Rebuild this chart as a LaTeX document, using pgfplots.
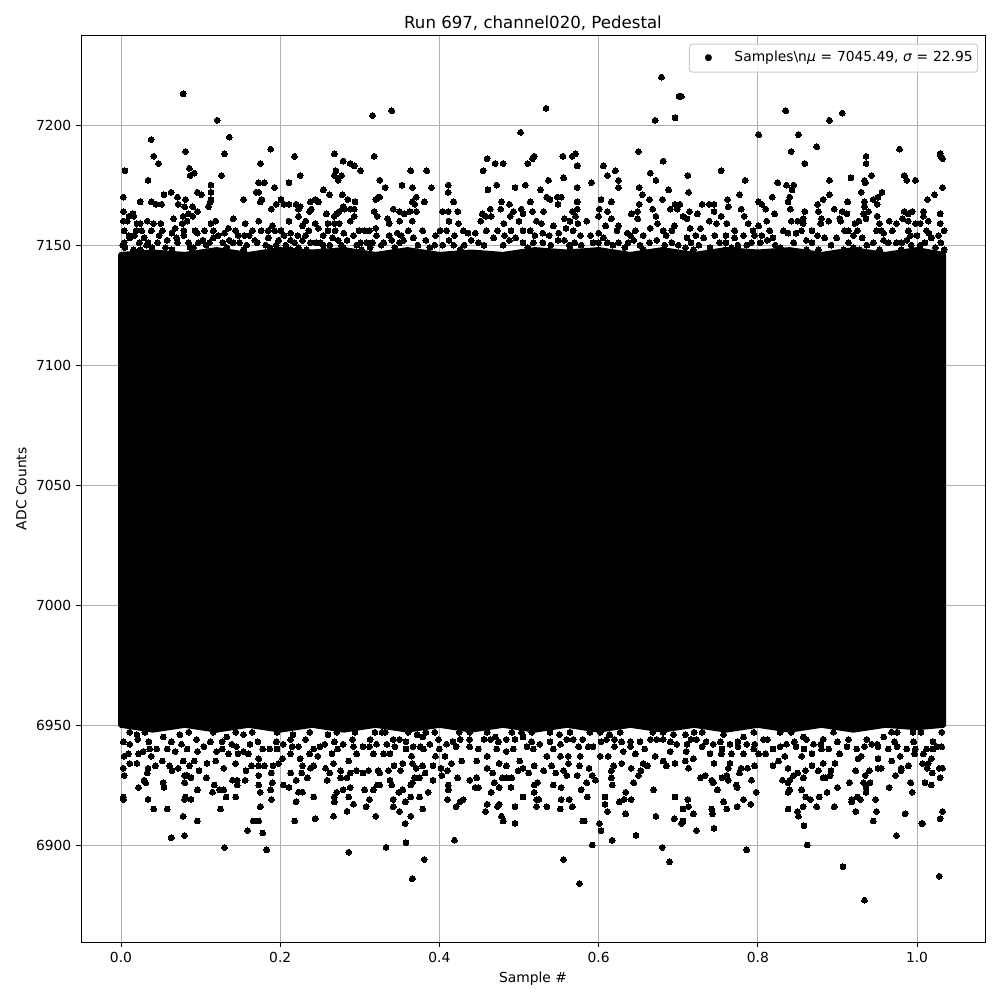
\documentclass[border=0pt]{standalone}
\usepackage{pgfplots}
\pgfplotsset{compat=1.18}
\usepackage{fontspec}
\setmainfont{DejaVu Sans}
\begin{document}
\begin{tikzpicture}
\useasboundingbox (0,0) rectangle (720bp,720bp);
\begin{axis}[
  at={(58.32bp,41.76bp)}, anchor=south west,
  scale only axis, width=650.88bp, height=652.6bp,
  xmin=-50.25, xmax=1085.4, ymin=6859.6, ymax=7237.3,
  xtick={0,200,400,600,800,1000},
  xticklabels={0.0,0.2,0.4,0.6,0.8,1.0},
  ytick={6900,6950,7000,7050,7100,7150,7200},
  /pgf/number format/assume math mode=true,
  /pgf/number format/1000 sep={},
  tick align=outside, tick pos=left,
  major tick length=3.5bp,
  tick style={black, line width=0.72bp},
  axis line style={line width=0.72bp},
  grid=major, grid style={color=black!31, line width=0.72bp},
  tick label style={font=\fontsize{10}{12}\selectfont},
  label style={font=\fontsize{10}{12}\selectfont},
  title style={font=\fontsize{12}{14}\selectfont, yshift=-6bp},
  title={Run 697, channel020, Pedestal},
  xlabel={Sample \#},
  ylabel={ADC Counts},
]
\addplot[forget plot, fill=black, draw=black, line width=4bp, line join=round] coordinates {
(0,7146)(40,7147)(80,7146)(120,7148)(160,7146)(200,7148)(240,7147)(280,7148)(320,7146)(360,7148)(400,7146)(440,7147)(480,7146)(520,7148)(560,7147)(600,7148)(640,7146)(680,7148)(720,7146)(760,7148)(800,7147)(840,7148)(880,7146)(920,7148)(960,7146)(1000,7148)(1033,7146)
(1033,6950)(1000,6949)(960,6950)(920,6948)(880,6950)(840,6948)(800,6950)(760,6948)(720,6950)(680,6948)(640,6950)(600,6948)(560,6950)(520,6948)(480,6950)(440,6948)(400,6950)(360,6948)(320,6950)(280,6948)(240,6950)(200,6948)(160,6950)(120,6948)(80,6950)(40,6948)(0,6950)
} -- cycle;
\addplot[only marks, mark=*, mark size=2.1bp, mark options={black, draw=black, line width=0pt}, color=black] coordinates {
(78,7213)(121,7202)(38,7194)(136,7195)(81,7189)(130,7188)(188,7190)(41,7187)(47,7184)(175,7184)(218,7187)(5,7181)(86,7182)(92,7180)(87,7179)(126,7179)(34,7177)(173,7176)(180,7176)(113,7175)(193,7174)(211,7176)(225,7179)
(3,7170)(24,7168)(38,7168)(44,7167)(51,7167)(54,7171)(63,7172)(71,7170)(72,7167)(81,7169)(80,7166)(90,7166)(96,7172)(101,7171)(96,7164)(113,7172)(112,7168)(113,7169)(110,7166)(154,7169)(170,7172)(173,7172)(177,7169)(175,7168)(201,7169)(195,7167)(189,7165)(205,7167)(211,7167)(220,7167)(225,7166)(223,7165)(238,7168)(244,7169)(248,7168)(254,7173)(262,7171)(268,7188)(279,7185)(288,7184)(293,7183)(301,7181)(270,7181)(268,7179)(277,7179)(273,7177)(278,7171)(285,7169)(294,7168)(279,7166)(288,7165)(281,7165)(293,7165)(293,7162)(288,7160)(274,7164)(271,7163)(268,7162)(258,7163)(239,7165)(237,7164)(223,7162)(211,7160)(232,7160)(228,7158)(244,7159)(260,7159)(268,7159)(274,7159)(316,7204)(318,7187)(325,7177)(320,7169)(323,7170)(318,7164)(322,7162)(320,7157)
(3,7164)(3,7160)(8,7160)(10,7162)(15,7163)(16,7162)(20,7159)(24,7159)(33,7160)(41,7159)(50,7159)(66,7161)(78,7162)(85,7163)(90,7162)(77,7159)(83,7160)(141,7161)(113,7159)(119,7160)(156,7159)(173,7160)(190,7158)
(4,7156)(19,7156)(26,7156)(52,7156)(79,7156)(93,7156)(116,7156)(130,7155)(144,7156)(165,7156)(176,7156)(185,7156)(193,7156)(201,7156)(213,7155)(222,7154)(236,7156)(248,7157)(260,7156)(269,7156)(299,7156)(306,7156)
(4,7151)(11,7153)(17,7154)(29,7153)(48,7154)(58,7152)(64,7155)(79,7154)(96,7155)(103,7152)(116,7153)(122,7154)(147,7154)(161,7154)(185,7153)(254,7154)(266,7153)(292,7154)(321,7154)
(23,7151)(34,7151)(46,7151)(71,7151)(85,7151)(97,7151)(111,7151)(141,7151)(149,7151)(171,7151)(198,7152)(213,7152)(228,7152)(238,7151)(245,7151)(254,7150)(273,7152)(284,7152)(301,7151)(309,7151)
(5,7149)(24,7148)(39,7149)(64,7148)(91,7149)(133,7149)(154,7148)(187,7149)(213,7148)(223,7149)(233,7148)(254,7148)(279,7149)(302,7148)(313,7149)
(340,7206)(534,7207)(502,7197)(679,7220)(671,7202)(696,7203)(701,7212)(650,7189)(681,7185)(364,7181)(384,7181)(460,7186)(470,7184)(480,7184)(455,7181)(511,7184)(519,7187)(517,7186)(555,7187)(571,7188)(567,7187)(573,7183)(606,7183)(611,7179)(621,7181)(625,7177)(625,7174)(665,7180)(672,7177)(591,7176)(537,7177)(556,7178)(573,7174)(527,7173)(508,7175)(495,7174)(472,7175)(461,7173)(411,7175)(411,7172)(353,7175)(366,7174)(390,7174)(332,7174)(325,7177)(651,7174)(688,7173)(655,7171)(664,7169)(680,7169)(668,7165)(651,7167)(649,7164)(696,7167)(690,7165)(699,7165)(616,7168)(603,7169)(601,7165)(611,7164)(616,7161)(600,7162)(641,7163)(649,7161)(672,7162)(674,7159)(695,7158)(609,7158)(625,7158)(573,7168)(573,7165)(567,7164)(571,7162)(557,7161)(564,7160)(574,7159)(585,7160)(535,7170)(539,7169)(548,7170)(553,7170)(549,7167)(514,7168)(531,7164)(488,7167)(478,7168)(464,7165)(477,7165)(493,7164)(503,7165)(505,7163)(517,7164)(489,7162)(454,7163)(458,7162)(465,7162)(452,7160)(481,7159)(500,7160)(522,7160)(528,7159)(543,7158)(371,7170)(366,7168)(369,7167)(381,7168)(342,7165)(350,7164)(356,7163)(363,7164)(371,7164)(335,7161)(337,7159)(350,7160)(366,7160)(325,7170)(418,7168)(404,7164)(411,7164)(423,7164)(412,7160)(424,7159)
(379,7156)(361,7156)(347,7155)(337,7154)(401,7156)(409,7156)(419,7154)(430,7156)(436,7155)(459,7156)(473,7156)(490,7156)(505,7156)(514,7156)(530,7155)(538,7154)(559,7157)(568,7156)(577,7154)(590,7154)(606,7153)(623,7156)(636,7155)(646,7156)(665,7157)(681,7156)(692,7156)(656,7154)
(330,7151)(355,7152)(367,7153)(383,7152)(394,7150)(412,7152)(431,7150)(449,7151)(468,7153)(488,7152)(505,7151)(530,7151)(557,7152)(570,7151)(593,7151)(611,7151)(625,7151)(644,7152)(673,7152)(692,7151)
(344,7149)(426,7148)(511,7149)(564,7149)(600,7148)(633,7149)(656,7148)
(704,7212)(835,7206)(890,7202)(906,7205)(801,7196)(851,7196)(842,7189)(874,7191)(859,7184)(978,7190)(1029,7188)(1030,7187)(1032,7186)(936,7187)(936,7184)(754,7181)(712,7179)(784,7177)(825,7176)(836,7175)(845,7175)(843,7173)(890,7177)(917,7178)(943,7179)(934,7177)(935,7176)(984,7179)(987,7177)(998,7177)(1032,7174)(1022,7171)(1013,7169)(713,7172)(777,7171)(840,7170)(838,7168)(818,7170)(890,7171)(882,7169)(930,7172)(956,7172)(951,7170)(945,7169)(934,7168)(913,7168)(875,7167)(730,7167)(739,7167)(745,7167)(762,7169)(763,7166)(801,7168)(805,7167)(810,7165)(821,7163)(779,7165)(841,7165)(859,7164)(876,7164)(896,7165)(906,7164)(912,7163)(934,7166)(950,7167)(939,7164)(933,7163)(984,7164)(989,7163)(994,7164)(1008,7164)(1029,7163)(714,7164)(702,7167)(706,7162)(711,7161)(724,7163)(745,7164)(754,7162)(783,7162)
(811,7160)(801,7158)(788,7159)(842,7160)(850,7160)(857,7161)(857,7159)(880,7161)(879,7159)(889,7160)(903,7161)(904,7160)(922,7159)(927,7160)(936,7161)(950,7162)(953,7159)(965,7160)(974,7159)(982,7161)(989,7160)(998,7159)(1004,7159)(1014,7160)(1029,7159)(1008,7162)(739,7160)(761,7159)(748,7159)
(728,7157)(715,7157)(771,7156)(794,7156)(815,7156)(832,7156)(855,7156)(868,7156)(909,7156)(914,7156)(925,7156)(949,7156)(955,7156)(969,7156)(989,7156)(1012,7156)(1034,7156)
(711,7153)(732,7153)(746,7154)(771,7153)(782,7154)(796,7154)(819,7153)(838,7155)(861,7152)(884,7153)(899,7153)(931,7153)(964,7151)(981,7151)(1000,7154)(1027,7154)(1018,7153)(945,7151)
(709,7149)(740,7149)(767,7149)(786,7150)(803,7151)(828,7149)(876,7148)(908,7148)(920,7149)(953,7148)(993,7150)(1010,7151)(1034,7148)(1023,7149)
(719,7148)(759,7148)(861,7148)(928,7148)(980,7148)
(2,7150)(16,7148)(32,7150)(56,7149)(70,7153)(87,7149)(107,7150)(128,7151)(136,7152)(158,7150)(168,7152)(182,7150)(195,7150)(207,7150)(218,7151)(250,7151)(262,7150)(277,7150)(296,7150)(316,7151)
(327,7150)(340,7152)(350,7151)(373,7150)(388,7149)(404,7150)(418,7150)(440,7152)(456,7150)(480,7150)(496,7153)(518,7151)(540,7150)(549,7152)(563,7150)(578,7150)(600,7151)(618,7150)(637,7151)(652,7150)(664,7151)(683,7150)(700,7150)
(716,7151)(726,7150)(752,7151)(760,7151)(775,7150)(792,7151)(812,7152)(822,7150)(845,7151)(868,7151)(892,7150)(914,7151)(937,7150)(958,7152)(974,7151)(987,7152)(1004,7150)(1030,7151)
(10,7154)(38,7156)(68,7157)(105,7156)(135,7157)(155,7154)(205,7154)(232,7154)(280,7155)(312,7156)
(352,7154)(395,7154)(445,7155)(482,7154)(520,7154)(550,7155)(600,7155)(640,7154)(685,7154)
(722,7154)(760,7154)(805,7154)(848,7155)(875,7154)(920,7154)(958,7155)(992,7154)(1015,7155)
(130,6899)(183,6898)(286,6897)(63,6903)(80,6904)(159,6906)(178,6905)(166,6910)(173,6910)(96,6910)(78,6912)(218,6910)(244,6911)(267,6912)(284,6914)(320,6912)(41,6915)(58,6915)(125,6915)(175,6916)(308,6916)(3,6920)(3,6919)(34,6919)(81,6920)(80,6919)(88,6919)(132,6920)(144,6920)(189,6919)(220,6918)(242,6920)(268,6918)(268,6920)(286,6920)(292,6917)(312,6919)(22,6924)(53,6926)(54,6924)(29,6927)(31,6926)(96,6923)(115,6922)(117,6925)(124,6923)(129,6923)(140,6927)(146,6927)(146,6925)(156,6927)(173,6925)(175,6922)(188,6923)(190,6926)(204,6925)(211,6924)(223,6922)(228,6922)(220,6927)(234,6928)(259,6927)(271,6922)(279,6923)(288,6924)(306,6923)(317,6923)(322,6925)
(4,6929)(3,6932)(11,6934)(33,6930)(34,6932)(43,6933)(64,6931)(61,6933)(72,6932)(80,6926)(80,6929)(86,6933)(83,6929)(88,6928)(98,6931)(108,6934)(107,6928)(129,6932)(144,6934)(157,6931)(164,6933)(173,6929)(173,6933)(180,6933)(189,6930)(191,6933)(198,6934)(213,6930)(227,6930)(228,6933)(242,6933)(238,6932)(257,6932)(262,6930)(267,6934)(276,6931)(276,6928)(284,6928)(288,6930)(296,6931)(304,6930)(311,6931)(323,6931)
(4,6937)(22,6938)(20,6934)(38,6937)(52,6935)(78,6935)(92,6935)(119,6935)(135,6938)(147,6938)(160,6938)(173,6936)(203,6936)(213,6938)(225,6936)(237,6938)(247,6937)(265,6938)(286,6935)(296,6938)(317,6938)
(11,6942)(28,6939)(45,6940)(68,6939)(83,6940)(104,6941)(120,6939)(145,6941)(162,6942)(187,6940)(204,6942)(223,6941)(242,6940)(256,6942)(279,6942)(304,6941)(321,6942)
(11,6947)(30,6947)(53,6945)(74,6946)(95,6944)(116,6947)(133,6945)(154,6946)(196,6947)(216,6946)(237,6947)(260,6946)(319,6947)
(366,6886)(381,6894)(333,6899)(358,6901)(419,6902)(556,6894)(576,6884)(592,6900)(601,6909)(603,6906)(617,6902)(647,6904)(680,6899)(689,6893)(357,6909)(495,6909)(480,6910)(478,6912)(582,6910)(580,6910)(364,6912)(350,6914)(379,6915)(342,6916)(342,6919)(357,6918)(364,6920)(375,6920)(386,6922)(410,6919)(421,6916)(426,6918)(430,6919)(458,6914)(460,6917)(473,6916)(475,6917)(495,6916)(505,6920)(522,6916)(522,6919)(525,6919)(535,6916)(553,6919)(552,6915)(563,6919)(567,6916)(586,6920)(611,6914)(608,6917)(608,6920)(626,6918)(632,6919)(634,6922)(641,6919)(634,6913)(672,6912)(695,6911)(696,6920)(669,6923)(578,6923)(585,6926)(519,6922)(519,6925)(523,6926)(543,6925)(553,6924)(490,6924)(469,6926)(475,6924)(465,6922)(445,6924)(449,6924)(438,6927)(447,6928)(479,6928)(484,6928)(491,6928)(411,6925)(411,6923)(392,6927)(375,6928)(369,6928)(364,6925)(366,6926)(340,6925)(338,6927)(349,6922)(354,6923)(325,6925)(617,6925)(616,6928)(644,6926)(653,6931)(650,6929)(596,6927)(592,6929)
(325,6930)(336,6931)(343,6933)(351,6931)(354,6934)(366,6934)(371,6932)(379,6933)(382,6930)(392,6933)(402,6932)(403,6929)(410,6931)(415,6934)(423,6928)(460,6932)(467,6930)(475,6934)(484,6933)(499,6931)(505,6932)(512,6930)(519,6933)(531,6931)(541,6933)(546,6930)(556,6931)(560,6929)(562,6934)(573,6929)(576,6933)(588,6932)(616,6931)(619,6933)(629,6934)(641,6932)(656,6934)(661,6933)(685,6933)(696,6934)
(330,6938)(338,6938)(365,6937)(380,6940)(395,6937)(407,6937)(428,6935)(447,6935)(460,6937)(472,6940)(493,6940)(501,6935)(518,6940)(535,6937)(552,6937)(562,6937)(577,6937)(602,6937)(612,6937)(631,6939)(646,6938)(671,6937)(681,6935)(690,6939)
(334,6942)(350,6944)(367,6941)(388,6942)(409,6942)(426,6944)(449,6940)(464,6944)(484,6944)(505,6945)(526,6942)(552,6942)(568,6944)(593,6941)(610,6944)(629,6943)(665,6944)(681,6944)(698,6942)
(332,6947)(361,6947)(394,6947)(438,6947)(470,6945)(491,6947)(516,6947)(539,6947)(564,6947)(589,6947)(602,6947)(627,6947)(694,6946)
(934,6877)(1028,6887)(907,6891)(786,6898)(862,6900)(974,6904)(858,6908)(723,6906)(745,6907)(706,6910)(704,6909)(1007,6909)(1029,6911)(1032,6914)(1006,6909)(945,6910)(949,6914)(923,6914)(985,6913)(850,6914)(851,6912)(838,6915)(857,6916)(874,6916)(896,6916)(743,6913)(742,6915)(719,6913)(706,6915)(713,6916)(712,6919)(757,6918)(761,6915)(774,6916)(782,6919)(791,6917)(798,6922)(749,6923)(774,6924)(773,6925)(792,6927)(744,6926)(742,6927)(763,6927)(761,6929)(755,6928)(734,6929)(728,6928)(838,6922)(840,6923)(855,6923)(860,6920)(866,6919)(877,6920)(887,6922)(900,6924)(915,6926)(918,6918)(918,6919)(925,6920)(929,6919)(948,6919)(965,6924)(936,6922)(936,6924)(941,6926)(933,6926)(935,6929)(973,6929)(992,6926)(994,6922)(1010,6926)(1018,6925)(1019,6930)(1029,6928)(1028,6932)(1032,6932)(1013,6932)
(838,6926)(831,6927)(840,6927)(845,6929)(850,6930)(857,6928)(860,6931)(876,6931)(882,6928)(885,6928)(891,6929)(892,6931)(923,6931)(940,6931)(955,6932)(951,6932)(980,6932)(980,6931)(989,6933)(1007,6934)(1014,6934)
(709,6935)(713,6932)(719,6936)(745,6934)(765,6934)(763,6932)(779,6932)(787,6932)(777,6930)(796,6933)(819,6933)(826,6935)(838,6932)(855,6937)(868,6933)(882,6934)(897,6934)(926,6936)(951,6936)(968,6935)(979,6937)(997,6938)(1018,6936)
(740,6938)(754,6938)(767,6938)(782,6938)(801,6938)(810,6938)(834,6937)(868,6938)(903,6938)(930,6937)(1008,6938)
(711,6942)(723,6944)(744,6942)(765,6942)(786,6942)(819,6940)(836,6942)(870,6942)(889,6940)(924,6940)(943,6942)(964,6940)(987,6940)(1012,6940)(1031,6941)(1025,6941)
(709,6946)(730,6947)(757,6946)(782,6945)(807,6944)(828,6947)(857,6945)(882,6944)(937,6944)(958,6945)(975,6947)(995,6947)(1031,6947)
(20,6946)(85,6947)(144,6947)(165,6947)(271,6947)(294,6947)(328,6947)(372,6946)(383,6947)(425,6947)(460,6947)(503,6947)(551,6946)(614,6946)(668,6947)(681,6947)(720,6947)(795,6947)(842,6947)(895,6947)(968,6947)(1005,6947)
(3,6943)(21,6944)(35,6943)(63,6943)(76,6942)(112,6943)(127,6943)(139,6942)(172,6943)(195,6943)(213,6944)(232,6944)(268,6943)(291,6944)(313,6944)
(342,6944)(358,6943)(379,6945)(399,6944)(417,6943)(438,6944)(456,6944)(474,6943)(495,6944)(516,6943)(539,6943)(560,6944)(580,6944)(603,6943)(620,6944)(640,6943)(652,6943)(673,6944)(690,6943)
(716,6944)(735,6943)(753,6943)(775,6943)(796,6942)(812,6944)(846,6943)(861,6944)(879,6942)(900,6943)(914,6944)(950,6942)(972,6943)(996,6943)(1020,6943)
(9,6938)(36,6940)(58,6940)(96,6939)(127,6940)(154,6939)(178,6940)(196,6940)(215,6941)(250,6941)(272,6940)(292,6941)(312,6941)
(344,6941)(358,6940)(376,6941)(400,6940)(421,6941)(438,6941)(484,6939)(510,6941)(543,6940)(575,6941)(587,6941)(620,6941)(640,6941)(658,6940)(710,6939)
(730,6941)(755,6940)(775,6941)(795,6940)(828,6941)(848,6941)(858,6940)(880,6940)(912,6941)(934,6941)(951,6941)(975,6941)(998,6940)(1020,6940)
};
\node[anchor=north east, draw=black!20, line width=0.72bp, rounded corners=2pt, fill=white, fill opacity=0.8, text opacity=1, inner sep=0pt, minimum height=20.2bp, font=\fontsize{10}{12}\selectfont] at (rel axis cs:0.9923,0.9912) {\hbox to 207.4bp{\makebox[27.4bp][c]{\raisebox{1.3bp}{\fontsize{6.5}{6.5}\selectfont ●}}\hskip5bp Samples\textbackslash n{\itshape μ}\kern0.3bp{} =\kern0.3bp{} 7045.49, {\itshape σ}\kern0.3bp{} =\kern0.3bp{} 22.95\hfil}};
\node[anchor=base east, font=\fontsize{10}{12}\selectfont] at (rel axis cs:1,0) [yshift=-28bp] {1e6};
\end{axis}
\end{tikzpicture}
\end{document}
